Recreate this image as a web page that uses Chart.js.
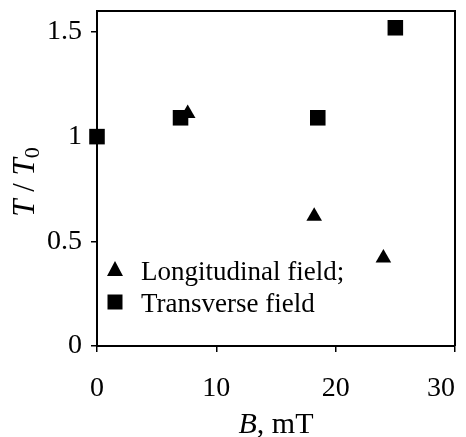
<!DOCTYPE html>
<html>
<head>
<meta charset="utf-8">
<script src="https://cdn.jsdelivr.net/npm/chart.js@4"></script>
<style>
html,body{margin:0;padding:0;background:#fff;}
#wrap{width:466px;height:437px;}
</style>
</head>
<body>
<div id="wrap"><canvas id="c" width="466" height="437"></canvas></div>
<script>
const longB = [7.6, 18.2, 24.0];
const longT = [1.11, 0.62, 0.42];
const transB = [0, 7.0, 18.5, 25.0];
const transT = [1.0, 1.09, 1.09, 1.52];
const seriesLabels = ['Longitudinal field;', 'Transverse field'];
const xTicks = [0, 10, 20, 30];
const yTicks = [0, 0.5, 1, 1.5];
const xTitle = ['B', ', mT'];
const yTitle = ['T', ' / ', 'T', '0'];

const FONT = '"Liberation Serif", "Times New Roman", serif';

const decor = {
  id: 'decor',
  afterDraw(chart) {
    const ctx = chart.ctx;
    const a = chart.chartArea;
    ctx.save();
    // box
    ctx.strokeStyle = '#000';
    ctx.lineWidth = 2;
    ctx.beginPath();
    ctx.moveTo(a.left, a.top);
    ctx.lineTo(a.right, a.top);
    ctx.lineTo(a.right, a.bottom);
    ctx.stroke();
    // x title
    ctx.fillStyle = '#000';
    ctx.textBaseline = 'alphabetic';
    ctx.font = 'italic 30px ' + FONT;
    const w1 = ctx.measureText(xTitle[0]).width;
    ctx.font = '30px ' + FONT;
    const w2 = ctx.measureText(xTitle[1]).width;
    let xs = (a.left + a.right) / 2 - (w1 + w2) / 2;
    const yb = 433;
    ctx.font = 'italic 30px ' + FONT;
    ctx.fillText(xTitle[0], xs, yb);
    ctx.font = '30px ' + FONT;
    ctx.fillText(xTitle[1], xs + w1, yb);
    // y title rotated
    ctx.save();
    ctx.translate(34, 182);
    ctx.rotate(-Math.PI / 2);
    const parts = [
      {t: yTitle[0], f: 'italic 31px ' + FONT, dy: 0},
      {t: yTitle[1], f: '31px ' + FONT, dy: 0},
      {t: yTitle[2], f: 'italic 31px ' + FONT, dy: 0},
      {t: yTitle[3], f: '22px ' + FONT, dy: 5}
    ];
    let tw = 0;
    parts.forEach(p => { ctx.font = p.f; p.w = ctx.measureText(p.t).width; tw += p.w; });
    let px = -tw / 2;
    parts.forEach(p => { ctx.font = p.f; ctx.fillText(p.t, px, p.dy); px += p.w; });
    ctx.restore();
    // legend
    const items = chart.data.datasets;
    const ly = [270, 302];
    const lx = 115;
    ctx.font = '27px ' + FONT;
    ctx.textBaseline = 'middle';
    items.forEach((ds, i) => {
      const y = ly[i];
      ctx.fillStyle = '#000';
      ctx.beginPath();
      if (ds.pointStyle === 'triangle') {
        ctx.moveTo(lx, y - 9);
        ctx.lineTo(lx + 8, y + 6);
        ctx.lineTo(lx - 8, y + 6);
        ctx.closePath();
      } else {
        ctx.rect(lx - 7.5, y - 7.5, 15, 15);
      }
      ctx.fill();
      ctx.fillText(ds.label, 141, y + 3);
    });
    ctx.restore();
  }
};

new Chart(document.getElementById('c'), {
  type: 'scatter',
  data: {
    datasets: [
      {
        label: seriesLabels[0],
        data: longB.map((b, i) => ({x: b, y: longT[i]})),
        pointStyle: 'triangle',
        pointRadius: 9,
        backgroundColor: '#000',
        borderColor: '#000',
        borderWidth: 0,
        order: 1,
        clip: false
      },
      {
        label: seriesLabels[1],
        data: transB.map((b, i) => ({x: b, y: transT[i]})),
        pointStyle: 'rect',
        pointRadius: 11,
        backgroundColor: '#000',
        borderColor: '#000',
        borderWidth: 0,
        order: 0,
        clip: false
      }
    ]
  },
  options: {
    responsive: false,
    animation: false,
    devicePixelRatio: 1,
    layout: {padding: {top: 8, right: 9, left: 0, bottom: 0}},
    plugins: {legend: {display: false}, tooltip: {enabled: false}},
    scales: {
      x: {
        type: 'linear', min: 0, max: 30,
        afterBuildTicks(s) { s.ticks = xTicks.map(v => ({value: v})); },
        afterFit(s) { s.height = 91; s.paddingLeft = 0; s.paddingRight = 0; },
        grid: {display: true, drawOnChartArea: false, drawTicks: true, tickLength: 6, color: '#000', lineWidth: 1.5},
        border: {display: true, color: '#000', width: 2},
        ticks: {
          color: '#000', font: {family: FONT, size: 28}, padding: 20, maxRotation: 0,
          callback: (v, i, arr) => i === arr.length - 1 ? String(v) + '\u2002\u2002' : String(v)
        }
      },
      y: {
        type: 'linear', min: 0, max: 1.6,
        afterBuildTicks(s) { s.ticks = yTicks.map(v => ({value: v})); },
        afterFit(s) { s.width = 97; s.paddingTop = 0; s.paddingBottom = 0; },
        grid: {display: true, drawOnChartArea: false, drawTicks: true, tickLength: 6, color: '#000', lineWidth: 1.5},
        border: {display: true, color: '#000', width: 2},
        ticks: {color: '#000', font: {family: FONT, size: 28}, padding: 9, callback: v => String(v)}
      }
    }
  },
  plugins: [decor]
});
</script>
</body>
</html>
